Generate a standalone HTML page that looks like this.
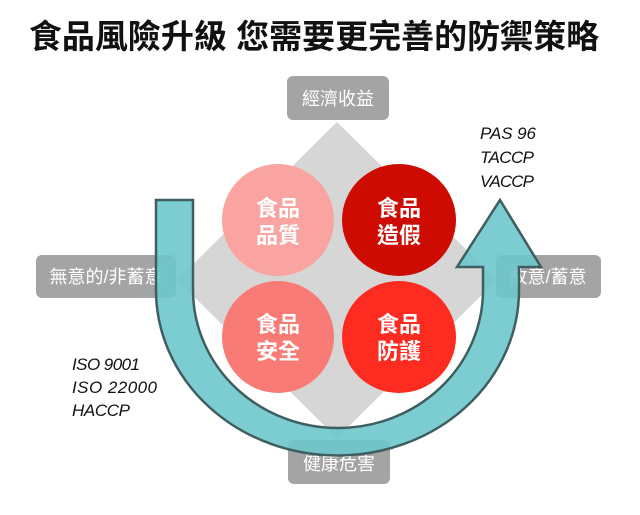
<!DOCTYPE html>
<html><head><meta charset="utf-8"><style>
html,body{margin:0;padding:0;background:#fff;}
svg{display:block;}
</style></head><body>
<svg width="640" height="515" viewBox="0 0 640 515" xmlns="http://www.w3.org/2000/svg">
<text x="314" y="48" text-anchor="middle" font-family="'Liberation Sans','Noto Sans CJK TC',sans-serif" font-size="33" font-weight="bold" fill="#111">食品風險升級 您需要更完善的防禦策略</text>
<!-- diamond -->
<polygon points="337,122 497,280 337,438 177,280" fill="#d6d6d6"/>
<!-- boxes -->
<g font-family="'Liberation Sans','Noto Sans CJK TC',sans-serif" font-size="18" fill="#fff" text-anchor="middle">
<rect x="287" y="76" width="102" height="44" rx="6" fill="#a4a4a4"/>
<text x="338" y="105">經濟收益</text>
<rect x="36" y="255" width="140" height="43" rx="6" fill="#a4a4a4"/>
<text x="106" y="283">無意的/非蓄意</text>
<rect x="496" y="255" width="105" height="43" rx="6" fill="#a4a4a4"/>
<text x="548" y="283">故意/蓄意</text>
<rect x="288" y="440" width="102" height="44" rx="6" fill="#a4a4a4"/>
<text x="339" y="470">健康危害</text>
</g>
<!-- circles -->
<ellipse cx="278" cy="220" rx="56" ry="56" fill="#f9a4a0"/>
<ellipse cx="399" cy="220" rx="57" ry="56" fill="#cd0b00"/>
<ellipse cx="278" cy="337" rx="56" ry="56" fill="#f87b75"/>
<ellipse cx="399" cy="337" rx="57" ry="56" fill="#fe2b20"/>
<g font-family="'Liberation Sans','Noto Sans CJK TC',sans-serif" font-size="22" font-weight="bold" fill="#fff" text-anchor="middle">
<text x="278" y="216">食品</text><text x="278" y="243">品質</text>
<text x="399" y="216">食品</text><text x="399" y="243">造假</text>
<text x="278" y="332">食品</text><text x="278" y="359">安全</text>
<text x="399" y="332">食品</text><text x="399" y="359">防護</text>
</g>
<!-- U arrow -->
<path d="M156,200 L193,200 L193,290 A145,138 0 0 0 483,290 L483,267 L457,267 L500,200 L541,267 L519,267 L519,290 A181,165 0 0 1 156,290 Z" fill="rgba(110,200,205,0.9)" stroke="#3f5e60" stroke-width="2.5" stroke-linejoin="miter"/>
<!-- labels -->
<g font-family="'Liberation Sans',sans-serif" font-size="17" font-style="italic" fill="#111">
<text x="72" y="370" textLength="68">ISO 9001</text>
<text x="72" y="393" textLength="85">ISO 22000</text>
<text x="72" y="416" textLength="58">HACCP</text>
<text x="480" y="139" textLength="56">PAS 96</text>
<text x="480" y="163" textLength="54">TACCP</text>
<text x="480" y="187" textLength="54">VACCP</text>
</g>
</svg>
</body></html>
